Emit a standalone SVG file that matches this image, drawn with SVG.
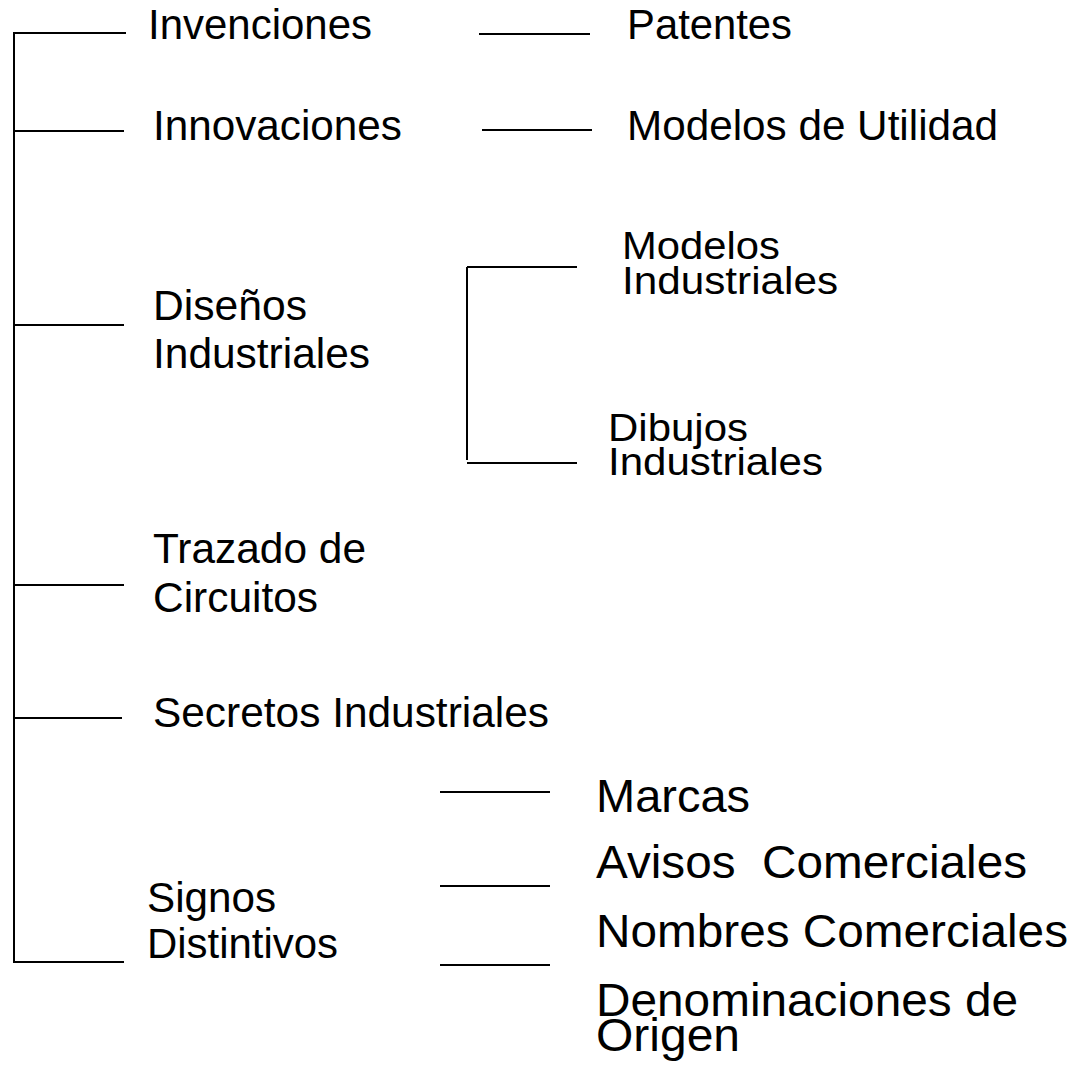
<svg xmlns="http://www.w3.org/2000/svg" width="1082" height="1068" viewBox="0 0 1082 1068">
<style>
text{font-family:"Liberation Sans",Arial,sans-serif;fill:#000;}
.l{font-size:42px;}
.m{font-size:38px;}
.r{font-size:46px;}
line{stroke:#000;stroke-width:2;}
</style>
<rect width="1082" height="1068" fill="#fff"/>
<g id="connectors">
<line x1="14" y1="33" x2="14" y2="963"/>
<line x1="13" y1="33" x2="126" y2="33"/>
<line x1="13" y1="131" x2="124" y2="131"/>
<line x1="13" y1="325" x2="124" y2="325"/>
<line x1="13" y1="585" x2="124" y2="585"/>
<line x1="13" y1="718" x2="122" y2="718"/>
<line x1="13" y1="962" x2="124" y2="962"/>
<line x1="479" y1="34" x2="590" y2="34"/>
<line x1="482" y1="130" x2="592" y2="130"/>
<line x1="467" y1="267" x2="467" y2="460"/>
<line x1="467" y1="267" x2="577" y2="267"/>
<line x1="467" y1="463" x2="577" y2="463"/>
<line x1="440" y1="792" x2="550" y2="792"/>
<line x1="440" y1="886" x2="550" y2="886"/>
<line x1="440" y1="965" x2="550" y2="965"/>
</g>
<g id="invenciones"><text class="l" x="148" y="39" textLength="224" lengthAdjust="spacingAndGlyphs">Invenciones</text></g>
<g id="patentes"><text class="l" x="627" y="39" textLength="165" lengthAdjust="spacingAndGlyphs">Patentes</text></g>
<g id="innovaciones"><text class="l" x="153" y="140" textLength="249" lengthAdjust="spacingAndGlyphs">Innovaciones</text></g>
<g id="modelos-utilidad"><text class="l" x="627" y="140" textLength="371" lengthAdjust="spacingAndGlyphs">Modelos de Utilidad</text></g>
<g id="disenos"><text class="l" x="153" y="320" textLength="154" lengthAdjust="spacingAndGlyphs">Diseños</text><text class="l" x="153" y="368" textLength="217" lengthAdjust="spacingAndGlyphs">Industriales</text></g>
<g id="modelos-ind"><text class="m" x="622" y="259" textLength="158" lengthAdjust="spacingAndGlyphs">Modelos</text><text class="m" x="622" y="294" textLength="216" lengthAdjust="spacingAndGlyphs">Industriales</text></g>
<g id="dibujos"><text class="m" x="608" y="441" textLength="140" lengthAdjust="spacingAndGlyphs">Dibujos</text><text class="m" x="608" y="475" textLength="215" lengthAdjust="spacingAndGlyphs">Industriales</text></g>
<g id="trazado"><text class="l" x="153" y="563" textLength="213" lengthAdjust="spacingAndGlyphs">Trazado de</text><text class="l" x="153" y="612" textLength="165" lengthAdjust="spacingAndGlyphs">Circuitos</text></g>
<g id="secretos"><text class="l" x="153" y="727" textLength="396" lengthAdjust="spacingAndGlyphs">Secretos Industriales</text></g>
<g id="signos"><text class="l" x="147" y="912" textLength="129" lengthAdjust="spacingAndGlyphs">Signos</text><text class="l" x="147" y="958" textLength="191" lengthAdjust="spacingAndGlyphs">Distintivos</text></g>
<g id="marcas"><text class="r" x="596" y="812" textLength="154" lengthAdjust="spacingAndGlyphs">Marcas</text></g>
<g id="avisos"><text class="r" x="596" y="878" textLength="431" lengthAdjust="spacingAndGlyphs" xml:space="preserve">Avisos  Comerciales</text></g>
<g id="nombres"><text class="r" x="596" y="947" textLength="472" lengthAdjust="spacingAndGlyphs">Nombres Comerciales</text></g>
<g id="denominaciones"><text class="r" x="596" y="1016" textLength="422" lengthAdjust="spacingAndGlyphs">Denominaciones de</text><text class="r" x="596" y="1051" textLength="144" lengthAdjust="spacingAndGlyphs">Origen</text></g>
</svg>
